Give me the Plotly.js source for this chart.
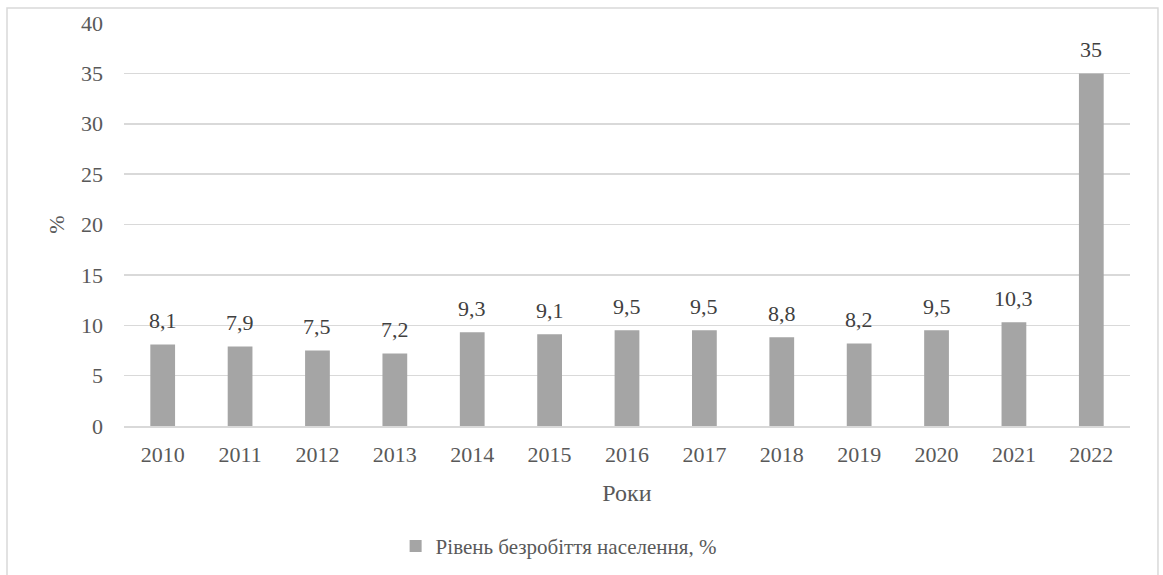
<!DOCTYPE html>
<html>
<head>
<meta charset="utf-8">
<script src="https://cdn.plot.ly/plotly-3.0.1.min.js"></script>
<style>html,body{margin:0;padding:0;background:#fff;}#chart{width:1163px;height:575px;}</style>
</head>
<body>
<div id="chart"></div>
<script>
const years = ['2010','2011','2012','2013','2014','2015','2016','2017','2018','2019','2020','2021','2022'];
const unemployment = [8.1, 7.9, 7.5, 7.2, 9.3, 9.1, 9.5, 9.5, 8.8, 8.2, 9.5, 10.3, 35];
const seriesName = 'Рівень безробіття населення, %';
const xTitle = 'Роки';
const yTitle = '%';

const font = 'Liberation Serif';

const trace = {
  type: 'bar',
  x: years,
  y: unemployment,
  name: seriesName,
  marker: {color: '#a5a5a5'},
  hoverinfo: 'x+y'
};

const labels = years.map((yr, i) => ({
  x: i, y: unemployment[i], xref: 'x', yref: 'y',
  text: String(unemployment[i]).replace('.', ','),
  showarrow: false, yanchor: 'bottom', yshift: 9,
  font: {family: font, size: 22, color: '#404040'}
}));

const layout = {
  width: 1163, height: 575,
  margin: {l: 124, r: 33, t: 23, b: 149},
  paper_bgcolor: '#fff', plot_bgcolor: '#fff',
  font: {family: font, size: 22, color: '#595959'},
  bargap: 0.68,
  showlegend: true,
  legend: {
    orientation: 'h', x: 0.27, xanchor: 'left',
    yref: 'container', y: 0.05, yanchor: 'middle',
    font: {family: font, size: 21, color: '#595959'},
    itemwidth: 30
  },
  xaxis: {
    type: 'category', range: [-0.5, 12.5], automargin: false,
    showgrid: false, showline: true, linecolor: '#d9d9d9', linewidth: 1.5,
    ticks: '', ticklabelstandoff: 8,
    tickfont: {family: font, size: 22, color: '#595959'},
    title: {text: xTitle, font: {family: font, size: 24, color: '#595959'}, standoff: 18}
  },
  yaxis: {
    range: [0, 40], dtick: 5, tick0: 0, automargin: false,
    showgrid: true, gridcolor: '#d9d9d9', gridwidth: 1.5,
    zeroline: false, showline: false, ticks: '',
    ticklabelstandoff: 20,
    tickfont: {family: font, size: 22, color: '#595959'},
    title: {text: yTitle, font: {family: font, size: 22, color: '#595959'}, standoff: 10}
  },
  annotations: labels,
  shapes: [{
    type: 'rect', xref: 'paper', yref: 'paper',
    x0: -0.1163, x1: 1.0278, y0: -0.40, y1: 1.0372,
    line: {color: '#d9d9d9', width: 1.5}, fillcolor: 'rgba(0,0,0,0)', layer: 'below'
  }]
};

Plotly.newPlot('chart', [trace], layout, {displayModeBar: false, staticPlot: true});
</script>
</body>
</html>
